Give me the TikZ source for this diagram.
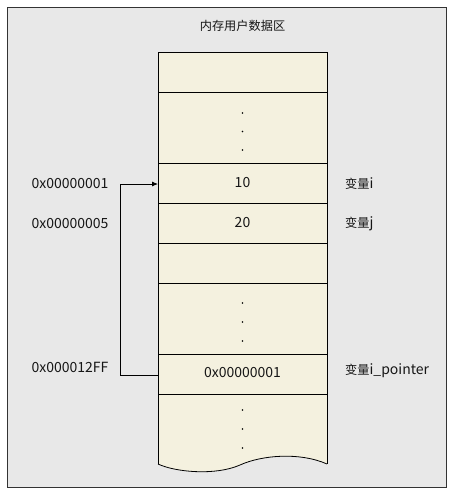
\documentclass[tikz,border=0pt]{standalone}
\usepackage{fontspec}
\setmainfont{Noto Sans CJK SC}
\usepackage{tikz}
\usetikzlibrary{arrows.meta, positioning}

\definecolor{framebg}{HTML}{E8E8E8}
\definecolor{cellbg}{HTML}{F4F1DF}
\definecolor{txt}{HTML}{161616}

\newcommand{\zh}[1]{{\fontsize{12.2}{14}\selectfont #1}}

\tikzset{
  cell/.style={draw=black, fill=cellbg, line width=0.8pt, minimum width=169pt, inner sep=0pt, outer sep=0pt},
  lbl/.style={text=txt, font=\fontsize{14}{16}\selectfont, inner sep=0pt},
}

\begin{document}
\begin{tikzpicture}[x=1pt, y=-1pt]
  \useasboundingbox (0,0) rectangle (453,493);
  % Frame
  \draw[fill=framebg, draw=black!80, line width=0.8pt] (7,7) rectangle (446,487);
  \node[lbl] (title) at (242.5,26) {\zh{内存用户数据区}};

  % Memory cells
  \node[cell, minimum height=40pt] (top) at (242.5,72) {};
  \node[cell, minimum height=71pt] (gap1) at (242.5,127.5) {};
  \node[cell, minimum height=40pt] (vi) at (242.5,183) {};
  \node[cell, minimum height=40pt] (vj) at (242.5,223) {};
  \node[cell, minimum height=40pt] (empty) at (242.5,263) {};
  \node[cell, minimum height=71pt] (gap2) at (242.5,318.5) {};
  \node[cell, minimum height=40pt] (ptr) at (242.5,374) {};
  % torn-off bottom cell
  \fill[cellbg] (ptr.south west) -- (158,464)
    .. controls (175,472) and (215,476) .. (240,465)
    .. controls (262,455) and (300,452) .. (327,464) -- (ptr.south east) -- cycle;
  \draw[line width=0.8pt] (ptr.south west) -- (158,464);
  \draw[line width=0.8pt] (ptr.south east) -- (327,464);
  \draw[line width=0.8pt] (158,464)
    .. controls (175,472) and (215,476) .. (240,465)
    .. controls (262,455) and (300,452) .. (327,464);
  \draw[line width=0.8pt] (ptr.south west) -- (ptr.south east);

  % Dots
  \foreach \y in {113,131.5,150, 303,322,341, 410,429,448} {
    \fill (242.5,\y) circle (0.8pt);
  }

  % Values
  \node[lbl] at (vi) {10};
  \node[lbl] at (vj) {20};
  \node[lbl] at ([yshift=1pt]ptr.center) {0x00000001};

  % Addresses
  \node[lbl] (ai) at (70,184) {0x00000001};
  \node[lbl] (aj) at (70,224) {0x00000005};
  \node[lbl] (ap) at (70,367) {0x000012FF};

  % Names
  \node[lbl, anchor=west] (ni) at (345,184) {\zh{变量}i};
  \node[lbl, anchor=west] (nj) at (345,224) {\zh{变量}j};
  \node[lbl, anchor=west] (np) at (345,371) {\zh{变量}i\_pointer};

  % Pointer arrow
  \draw[-{Latex[length=6pt,width=5pt]}, line width=0.8pt] ([yshift=-1.5pt]ptr.west) -- ++(-38,0) |- ([yshift=-1pt]vi.west);
\end{tikzpicture}
\end{document}
